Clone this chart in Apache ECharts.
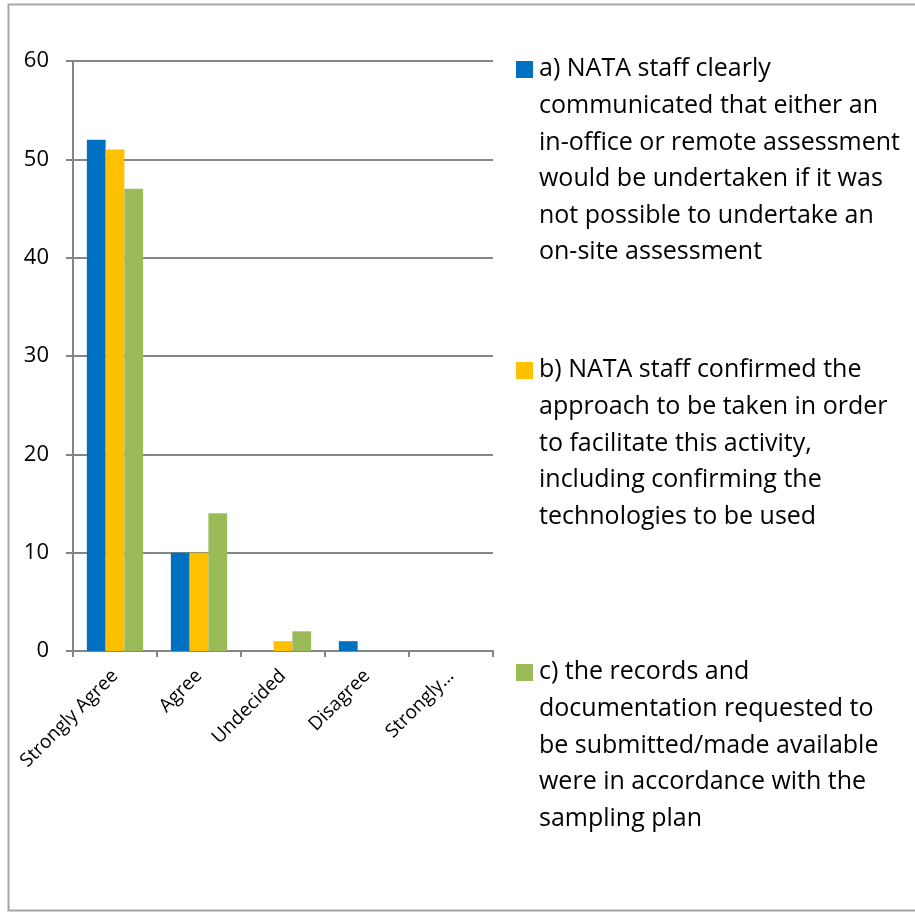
<!DOCTYPE html>
<html>
<head>
<meta charset="utf-8">
<script src="https://cdn.jsdelivr.net/npm/echarts@6/dist/echarts.min.js"></script>
<style>
html,body{margin:0;padding:0;background:#fff;}
#chart{width:915px;height:912px;}
</style>
</head>
<body>
<div id="chart"></div>
<script>
// ---- data ----
const categories = ['Strongly Agree', 'Agree', 'Undecided', 'Disagree', 'Strongly Disagree'];
const tickLabels = ['Strongly Agree', 'Agree', 'Undecided', 'Disagree', 'Strongly…'];
const seriesNames = [
  'a) NATA staff clearly\ncommunicated that either an\nin-office or remote assessment\nwould be undertaken if it was\nnot possible to undertake an\non-site assessment',
  'b) NATA staff confirmed the\napproach to be taken in order\nto facilitate this activity,\nincluding confirming the\ntechnologies to be used',
  'c) the records and\ndocumentation requested to\nbe submitted/made available\nwere in accordance with the\nsampling plan'
];
const valuesA = [52, 10, 0, 1, 0];
const valuesB = [51, 10, 1, 0, 0];
const valuesC = [47, 14, 2, 0, 0];
const yTicks = { min: 0, max: 60, interval: 10 };

const colors = ['#0070C0', '#FFC000', '#9BBB59'];
const FONT = 'Open Sans';
const LH = 36.6;
const legendTops = [51, 352, 654];

function legendIcon(lines) {
  const H = lines * LH;
  return 'path://M0,10L17,10L17,27L0,27Z M0,0L0.01,0L0,0.01Z M0,' + H + 'L0.01,' + H + 'L0,' + (H - 0.01) + 'Z';
}

const legends = seriesNames.map((name, i) => {
  const lines = name.split('\n').length;
  return {
    data: [{ name: name, icon: legendIcon(lines) }],
    left: 516,
    top: legendTops[i],
    padding: 0,
    orient: 'vertical',
    itemWidth: 17,
    itemHeight: lines * LH,
    selectedMode: false,
    textStyle: { fontFamily: FONT, fontSize: 25, color: '#000', lineHeight: LH, padding: [0, 0, 0, 1] }
  };
});

const allValues = [valuesA, valuesB, valuesC];
const chart = echarts.init(document.getElementById('chart'));
chart.setOption({
  animation: false,
  backgroundColor: '#fff',
  textStyle: { fontFamily: FONT },
  graphic: [{
    type: 'rect',
    shape: { x: 8.5, y: 4.5, width: 920, height: 906 },
    style: { fill: 'none', stroke: '#a6a6a6', lineWidth: 2 },
    silent: true
  }],
  legend: legends,
  grid: { left: 73, right: 422, top: 61, bottom: 261, containLabel: false },
  xAxis: {
    type: 'category',
    data: categories,
    axisLine: { lineStyle: { color: '#868686', width: 2 } },
    axisTick: { show: true, length: 6, lineStyle: { color: '#868686', width: 2 } },
    axisLabel: {
      rotate: 45, fontSize: 19, color: '#000', fontFamily: FONT, margin: 22,
      formatter: (v, idx) => tickLabels[idx]
    }
  },
  yAxis: {
    type: 'value',
    min: yTicks.min, max: yTicks.max, interval: yTicks.interval,
    axisLine: { show: true, lineStyle: { color: '#868686', width: 2 } },
    axisTick: { show: true, length: 7, lineStyle: { color: '#868686', width: 2 } },
    splitLine: { lineStyle: { color: '#868686', width: 2 } },
    axisLabel: { fontSize: 22, color: '#000', fontFamily: FONT, margin: 24 }
  },
  series: allValues.map((vals, i) => ({
    type: 'bar',
    name: seriesNames[i],
    data: vals,
    barGap: '0%',
    barCategoryGap: '33%',
    itemStyle: { color: colors[i] }
  }))
});
</script>
</body>
</html>
